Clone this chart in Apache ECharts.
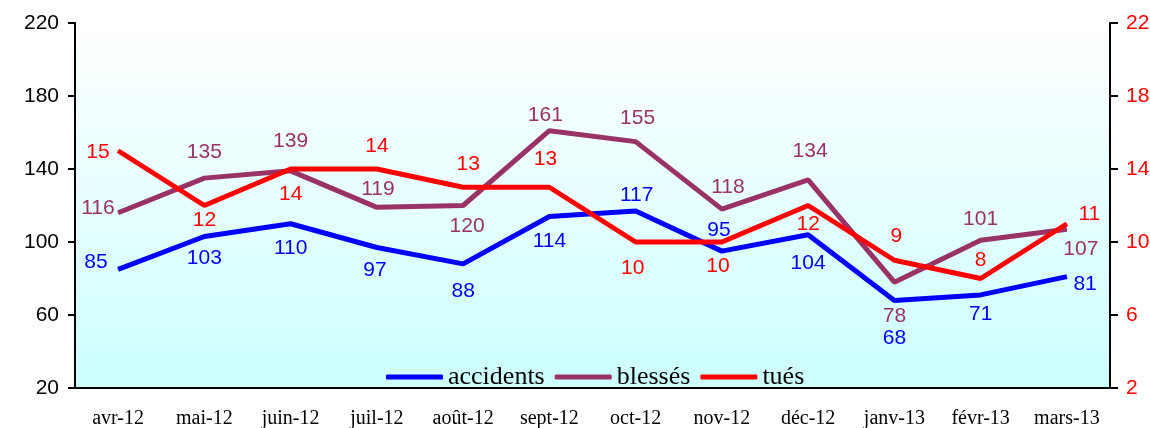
<!DOCTYPE html>
<html>
<head>
<meta charset="utf-8">
<script src="https://cdn.jsdelivr.net/npm/echarts@6/dist/echarts.min.js"></script>
<style>
  html, body { margin: 0; padding: 0; background: #fff; }
  #chart { width: 1150px; height: 428px; }
</style>
</head>
<body>
<div id="chart"></div>
<script>
// données
var months = ['avr-12', 'mai-12', 'juin-12', 'juil-12', 'août-12', 'sept-12',
  'oct-12', 'nov-12', 'déc-12', 'janv-13', 'févr-13', 'mars-13']
var accidents = [85, 103, 110, 97, 88, 114, 117, 95, 104, 68, 71, 81]
var blesses = [116, 135, 139, 119, 120, 161, 155, 118, 134, 78, 101, 107]
var tues = [15, 12, 14, 14, 13, 13, 10, 10, 12, 9, 8, 11]

// placement des étiquettes : [position, dx, dy]
var accLbl = [['left', 0, -7], ['bottom', 0, 1], ['bottom', 0, 3], ['bottom', -2, 2],
  ['bottom', 0, 6], ['bottom', 0, 4], ['top', 1, 5], ['top', -3, 0], ['bottom', 0, 8],
  ['bottom', 0, 17], ['bottom', 0, -2], ['right', -4, 8]]
var bleLbl = [['left', 7, -5], ['top', 0, -5], ['top', 0, -9], ['top', 1, 3],
  ['bottom', 4, 0], ['top', -4, 6], ['top', 2, -2], ['top', 6, -1], ['top', 2, -8],
  ['bottom', 0, 13], ['top', 0, 0], ['bottom', 14, -1]]
var tuesLbl = [['left', 2, 1], ['bottom', 0, -6], ['bottom', 0, 4], ['top', 0, -2],
  ['top', 5, -2], ['top', -4, -7], ['bottom', -3, 5], ['bottom', -4, 3], ['bottom', 0, -2],
  ['top', 2, -3], ['top', 0, 3], ['right', 1, -10]]

function withLabels (values, lbl) {
  return values.map(function (v, i) {
    return { value: v, label: { position: lbl[i][0], offset: [lbl[i][1], lbl[i][2]] } }
  })
}

function lineSeries (name, values, lbl, color, yIndex) {
  return {
    name: name,
    type: 'line',
    yAxisIndex: yIndex,
    data: withLabels(values, lbl),
    symbol: 'circle',
    symbolSize: 1,
    showSymbol: true,
    showAllSymbol: true,
    lineStyle: { color: color, width: 5 },
    itemStyle: { color: color },
    label: {
      show: true,
      distance: 10,
      color: color,
      fontFamily: 'Liberation Sans',
      fontSize: 21
    },
    emphasis: { disabled: true }
  }
}

var myChart = echarts.init(document.getElementById('chart'))
var option = {
  animation: false,
  grid: {
    left: 75,
    right: 40,
    top: 23,
    bottom: 40,
    outerBoundsMode: 'none',
    show: true,
    borderWidth: 0,
    backgroundColor: {
      type: 'linear', x: 0, y: 0, x2: 0, y2: 1,
      colorStops: [{ offset: 0, color: '#ffffff' }, { offset: 1, color: '#ccffff' }]
    }
  },
  legend: {
    left: 381,
    top: 359,
    icon: 'roundRect',
    itemWidth: 57,
    itemHeight: 5,
    itemGap: 10,
    textStyle: { fontFamily: 'Liberation Serif', fontSize: 26, color: '#000' },
    data: ['accidents', 'blessés', 'tués']
  },
  xAxis: {
    type: 'category',
    data: months,
    boundaryGap: true,
    axisLine: { lineStyle: { color: '#000', width: 2 } },
    axisTick: { length: 7, lineStyle: { color: '#000', width: 2 } },
    axisLabel: { color: '#000', fontFamily: 'Liberation Serif', fontSize: 20, margin: 21, interval: 0 },
    splitLine: { show: false }
  },
  yAxis: [{
    type: 'value',
    min: 20,
    max: 220,
    interval: 40,
    axisLine: { show: true, lineStyle: { color: '#000', width: 2 } },
    axisTick: { show: true, length: 7, lineStyle: { color: '#000', width: 2 } },
    axisLabel: { color: '#000', fontFamily: 'Liberation Sans', fontSize: 21, margin: 16 },
    splitLine: { show: false }
  }, {
    type: 'value',
    position: 'right',
    min: 2,
    max: 22,
    interval: 4,
    axisLine: { show: true, lineStyle: { color: '#000', width: 2 } },
    axisTick: { show: true, length: 8, lineStyle: { color: '#000', width: 2 } },
    axisLabel: { color: '#ff0000', fontFamily: 'Liberation Sans', fontSize: 21, margin: 16 },
    splitLine: { show: false }
  }],
  series: [
    lineSeries('accidents', accidents, accLbl, '#0000ff', 0),
    lineSeries('blessés', blesses, bleLbl, '#993366', 0),
    lineSeries('tués', tues, tuesLbl, '#ff0000', 1)
  ]
}
myChart.setOption(option)
</script>
</body>
</html>
